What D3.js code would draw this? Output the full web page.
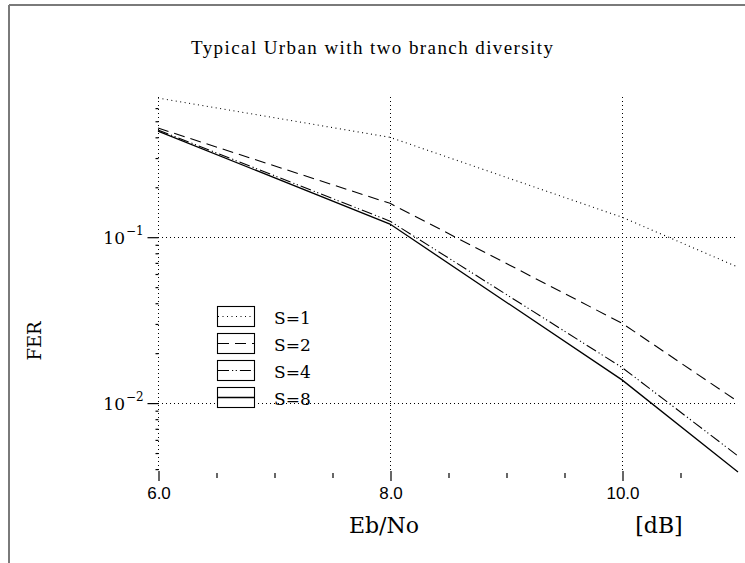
<!DOCTYPE html>
<html>
<head>
<meta charset="utf-8">
<script src="https://cdn.jsdelivr.net/npm/d3@7"></script>
<style>
  html, body { margin: 0; padding: 0; background: #fff; }
  svg { display: block; }
</style>
</head>
<body>
<svg id="chart" width="745" height="563"></svg>
<script>
// Frame error rate vs Eb/No for different S values
const ebno = [6, 8, 10, 11];
const seriesNames = ["S=1", "S=2", "S=4", "S=8"];
const fer_s1 = [0.69, 0.40, 0.132, 0.066];
const fer_s2 = [0.455, 0.160, 0.0303, 0.0102];
const fer_s4 = [0.443, 0.125, 0.0164, 0.0048];
const fer_s8 = [0.436, 0.120, 0.0138, 0.00384];
const xMajorTicks = [6, 8, 10];
const xTickLabels = ["6.0", "8.0", "10.0"];
const xMinorTicks = [6.5, 7, 7.5, 8.5, 9, 9.5, 10.5];
const yMajorTicks = [0.1, 0.01];
const yTickExponents = ["\u22121", "\u22122"];

const seriesValues = [fer_s1, fer_s2, fer_s4, fer_s8];
const dashes = ["1,3.5", "11,6", "11,3,1.2,2.5,1.2,3", null];

const svg = d3.select("#chart");

const x = d3.scaleLinear().domain([6, 11]).range([158, 738]);
const y = d3.scaleLog().domain([0.00379, 0.7]).range([473, 97]);

// minor log ticks 2..9 x 10^k inside the domain
const yMinorTicks = [];
[-3, -2, -1].forEach(k => {
  for (let m = 2; m <= 9; m++) {
    const v = m * Math.pow(10, k);
    if (v >= y.domain()[0] && v <= y.domain()[1]) yMinorTicks.push(v);
  }
});

// page frame
svg.append("line").attr("x1", 9).attr("x2", 745).attr("y1", 5).attr("y2", 5)
  .attr("stroke", "#7a7a7a").attr("stroke-width", 2);
svg.append("line").attr("x1", 9).attr("x2", 9).attr("y1", 5).attr("y2", 563)
  .attr("stroke", "#7a7a7a").attr("stroke-width", 2);

// title
svg.append("text")
  .attr("x", 372).attr("y", 54)
  .attr("text-anchor", "middle")
  .attr("font-family", "Liberation Serif, serif")
  .attr("font-size", 19)
  .attr("textLength", 362).attr("lengthAdjust", "spacing")
  .text("Typical Urban with two branch diversity");

// grid
const grid = svg.append("g").attr("stroke", "#000").attr("stroke-width", 1)
  .attr("stroke-dasharray", "1,3");
xMajorTicks.forEach(v => {
  grid.append("line").attr("x1", x(v) + 0.5).attr("x2", x(v) + 0.5)
    .attr("y1", y.range()[1]).attr("y2", y.range()[0]);
});
yMajorTicks.forEach(v => {
  grid.append("line").attr("x1", x.range()[0]).attr("x2", x.range()[1])
    .attr("y1", Math.round(y(v)) + 0.5).attr("y2", Math.round(y(v)) + 0.5);
});

// y axis ticks (major + minor), axis path hidden (dotted grid line plays that role)
const yMinorAxis = d3.axisLeft(y).tickValues(yMinorTicks).tickSize(3).tickFormat("");
const yMajorAxis = d3.axisLeft(y).tickValues(yMajorTicks).tickSize(11).tickFormat("");
[yMinorAxis, yMajorAxis].forEach(ax => {
  const g = svg.append("g").attr("transform", `translate(${x.range()[0] + 0.5},0)`).call(ax);
  g.select(".domain").remove();
  g.selectAll(".tick line").attr("stroke", "#000").attr("stroke-width", 1.2);
});

// y tick labels as 10^k
yMajorTicks.forEach((v, i) => {
  svg.append("text")
    .attr("x", 125).attr("y", y(v) + 7)
    .attr("text-anchor", "end")
    .attr("font-family", "DejaVu Serif, serif")
    .attr("font-size", 17)
    .text("10");
  svg.append("text")
    .attr("x", 126).attr("y", y(v) - 2)
    .attr("font-family", "DejaVu Serif, serif")
    .attr("font-size", 12)
    .text(yTickExponents[i]);
});

// x axis ticks
const xMinorAxis = d3.axisBottom(x).tickValues(xMinorTicks).tickSize(5).tickFormat("");
const xMajorAxis = d3.axisBottom(x).tickValues(xMajorTicks).tickSize(10)
  .tickFormat((d, i) => xTickLabels[i]);
const gxMinor = svg.append("g").attr("transform", `translate(0.5,${y.range()[0]})`).call(xMinorAxis);
gxMinor.select(".domain").remove();
const gxMajor = svg.append("g").attr("transform", `translate(0.5,${y.range()[0] - 2})`).call(xMajorAxis);
gxMajor.select(".domain").remove();
[gxMinor, gxMajor].forEach(g => g.selectAll(".tick line").attr("stroke", "#000").attr("stroke-width", 1.2));
gxMajor.selectAll(".tick text")
  .attr("font-family", "Liberation Sans, Arial, sans-serif")
  .attr("font-size", 17)
  .attr("fill", "#000")
  .attr("y", 16);

// axis titles
svg.append("text")
  .attr("x", 384).attr("y", 533)
  .attr("text-anchor", "middle")
  .attr("font-family", "DejaVu Serif, serif")
  .attr("font-size", 22)
  .text("Eb/No");
svg.append("text")
  .attr("x", 659).attr("y", 533)
  .attr("text-anchor", "middle")
  .attr("font-family", "DejaVu Serif, serif")
  .attr("font-size", 22)
  .text("[dB]");
svg.append("text")
  .attr("transform", "translate(41,341) rotate(-90)")
  .attr("text-anchor", "middle")
  .attr("font-family", "DejaVu Serif, serif")
  .attr("font-size", 18)
  .text("FER");

// curves
const line = d3.line().x((d, i) => x(ebno[i])).y(d => y(d));
seriesValues.forEach((vals, i) => {
  svg.append("path")
    .attr("d", line(vals))
    .attr("fill", "none")
    .attr("stroke", "#000")
    .attr("stroke-width", i === 3 ? 1.3 : 1.1)
    .attr("stroke-dasharray", dashes[i]);
});

// legend
const legend = svg.append("g").attr("transform", "translate(217,306)");
seriesNames.forEach((name, i) => {
  const g = legend.append("g").attr("transform", `translate(0,${i * 27})`);
  g.append("rect").attr("x", 0.5).attr("y", 0.5).attr("width", 37).attr("height", 20)
    .attr("fill", "#fff").attr("stroke", "#000").attr("stroke-width", 1.1);
  g.append("line").attr("x1", 1).attr("x2", 37).attr("y1", 10.5).attr("y2", 10.5)
    .attr("stroke", "#000").attr("stroke-width", i === 3 ? 1.3 : 1.1)
    .attr("stroke-dasharray", dashes[i]);
  g.append("text")
    .attr("x", 57).attr("y", 18)
    .attr("font-family", "DejaVu Serif, serif")
    .attr("font-size", 17)
    .text(name);
});
</script>
</body>
</html>
